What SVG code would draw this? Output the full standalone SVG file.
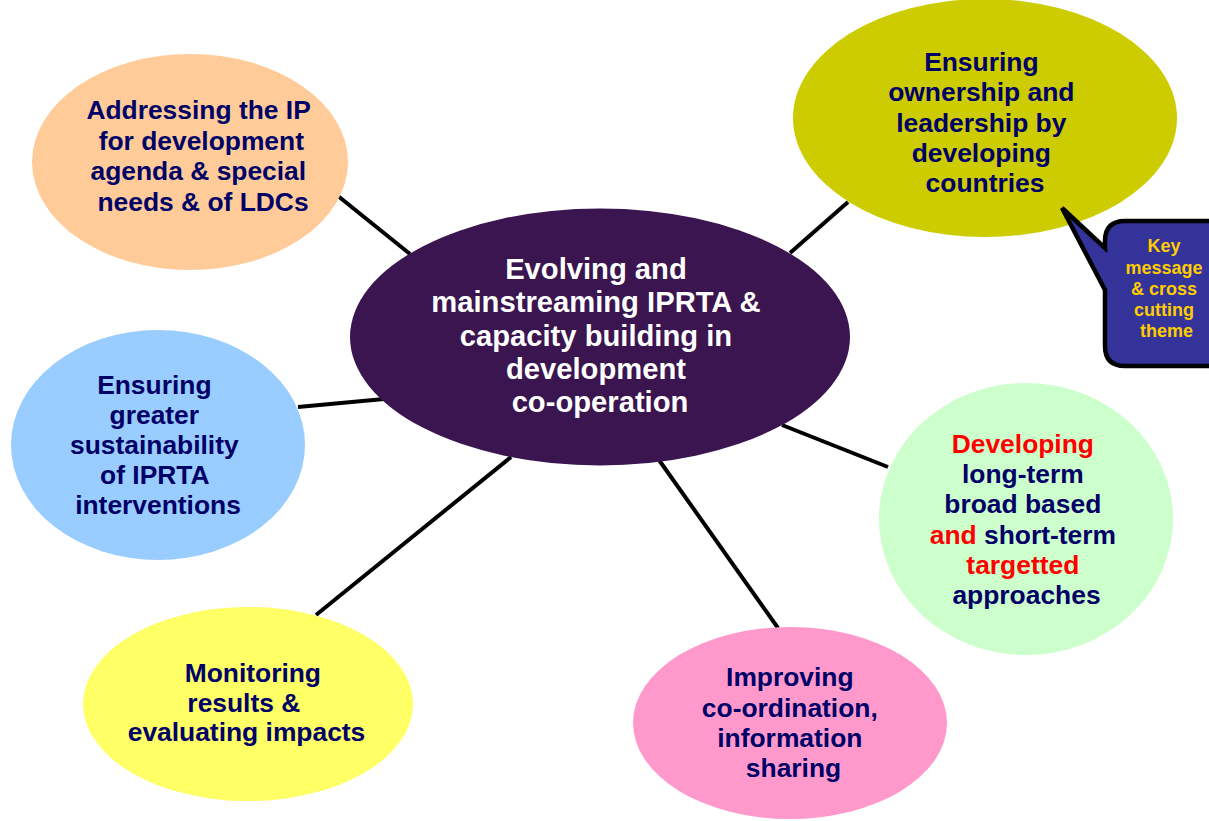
<svg xmlns="http://www.w3.org/2000/svg" width="1209" height="821" viewBox="0 0 1209 821">
  <style>
    .t { font-family: "Liberation Sans", Arial, sans-serif; font-weight: bold; text-anchor: middle; }
    .node { font-size: 26.4px; fill: #000066; }
    .hub { font-size: 29.2px; fill: #FFFFFF; }
    .red { fill: #FF0000; }
    .key { font-size: 18px; fill: #FFCC00; }
    .link { stroke: #000000; stroke-width: 4; stroke-linecap: butt; }
  </style>
  <rect width="1209" height="821" fill="#FFFFFF"/>

  <!-- spokes from the hub to each theme -->
  <g id="connectors">
    <line class="link" x1="338" y1="196" x2="410" y2="254"/>
    <line class="link" x1="790" y1="253" x2="848" y2="202"/>
    <line class="link" x1="298" y1="407" x2="384" y2="399"/>
    <line class="link" x1="782" y1="425" x2="888" y2="467"/>
    <line class="link" x1="316" y1="615" x2="511" y2="457"/>
    <line class="link" x1="659" y1="460" x2="778" y2="628"/>
  </g>

  <g id="node-ip-agenda">
    <ellipse cx="190" cy="162" rx="158" ry="108" fill="#FFCC99"/>
    <text class="t node">
      <tspan x="202" y="119">Addressing the IP</tspan>
      <tspan x="205" y="149.5">for development</tspan>
      <tspan x="202" y="180">agenda &amp; special</tspan>
      <tspan x="203" y="210.5">needs &amp; of LDCs</tspan>
    </text>
  </g>

  <g id="node-ownership">
    <ellipse cx="985" cy="118" rx="192" ry="119" fill="#CCCC00"/>
    <text class="t node">
      <tspan x="985" y="70.5">Ensuring</tspan>
      <tspan x="985" y="101">ownership and</tspan>
      <tspan x="985" y="131.5">leadership by</tspan>
      <tspan x="985" y="162">developing</tspan>
      <tspan x="985" y="192">countries</tspan>
    </text>
  </g>

  <g id="node-sustainability">
    <ellipse cx="158" cy="445" rx="147" ry="115" fill="#99CCFF"/>
    <text class="t node">
      <tspan x="158" y="393.5">Ensuring</tspan>
      <tspan x="158" y="423.5">greater</tspan>
      <tspan x="158" y="453.5">sustainability</tspan>
      <tspan x="158" y="483.5">of IPRTA</tspan>
      <tspan x="158" y="513.5">interventions</tspan>
    </text>
  </g>

  <g id="node-approaches">
    <ellipse cx="1026" cy="519" rx="147" ry="136" fill="#CCFFCC"/>
    <text class="t node">
      <tspan x="1026.5" y="452.5" class="red">Developing</tspan>
      <tspan x="1026.5" y="483">long-term</tspan>
      <tspan x="1026.5" y="513">broad based</tspan>
      <tspan x="1026.5" y="543.5"><tspan class="red">and</tspan> short-term</tspan>
      <tspan x="1026.5" y="574" class="red">targetted</tspan>
      <tspan x="1026.5" y="604">approaches</tspan>
    </text>
  </g>

  <g id="node-monitoring">
    <ellipse cx="248" cy="704" rx="165" ry="97" fill="#FFFF66"/>
    <text class="t node">
      <tspan x="256.5" y="681.5">Monitoring</tspan>
      <tspan x="247.5" y="711.5">results &amp;</tspan>
      <tspan x="246.5" y="741">evaluating impacts</tspan>
    </text>
  </g>

  <g id="node-coordination">
    <ellipse cx="790" cy="723" rx="157" ry="96" fill="#FF99CC"/>
    <text class="t node">
      <tspan x="793.5" y="686">Improving</tspan>
      <tspan x="793.5" y="716.5">co-ordination,</tspan>
      <tspan x="793.5" y="747">information</tspan>
      <tspan x="793.5" y="777">sharing</tspan>
    </text>
  </g>

  <g id="node-hub">
    <ellipse cx="600" cy="337" rx="250" ry="128.5" fill="#3A154F"/>
    <text class="t hub">
      <tspan x="600" y="278.5">Evolving and</tspan>
      <tspan x="600" y="312">mainstreaming IPRTA &amp;</tspan>
      <tspan x="600" y="345.5">capacity building in</tspan>
      <tspan x="600" y="379">development</tspan>
      <tspan x="600" y="412">co-operation</tspan>
    </text>
  </g>

  <!-- speech bubble pointing at the ownership theme -->
  <g id="callout-key-message">
    <path d="M1125,221 H1240 V366 H1125 Q1105,366 1105,346 V290 L1062,208 L1105,248 V241 Q1105,221 1125,221 Z"
          fill="#333399" stroke="#000000" stroke-width="4.5" stroke-linejoin="miter"/>
    <text class="t key">
      <tspan x="1166.5" y="252">Key</tspan>
      <tspan x="1166.5" y="273.5">message</tspan>
      <tspan x="1166.5" y="294.5">&amp; cross</tspan>
      <tspan x="1166.5" y="315.5">cutting</tspan>
      <tspan x="1166.5" y="336.5">theme</tspan>
    </text>
  </g>
</svg>
